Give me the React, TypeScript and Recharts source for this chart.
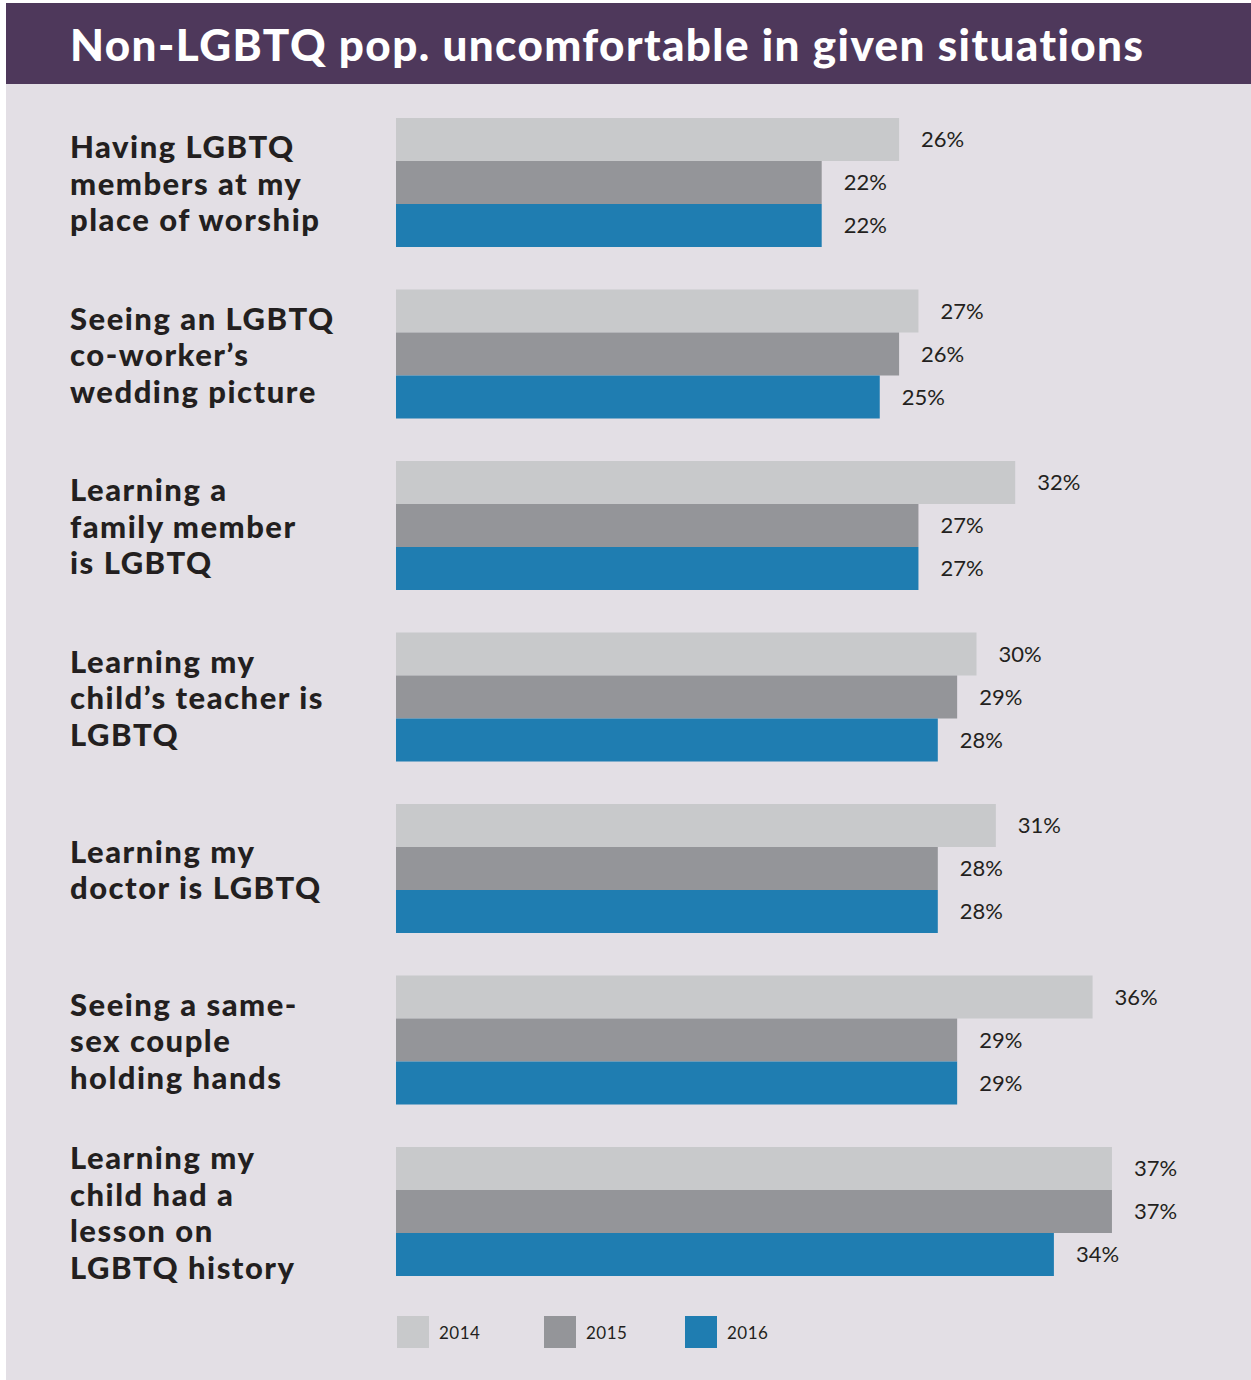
import React from 'react';
import { BarChart, Bar, XAxis, YAxis, LabelList } from 'recharts';

// Survey situations (line breaks follow the original layout)
const situations = [
  'Having LGBTQ\nmembers at my\nplace of worship',
  'Seeing an LGBTQ\nco-worker’s\nwedding picture',
  'Learning a\nfamily member\nis LGBTQ',
  'Learning my\nchild’s teacher is\nLGBTQ',
  'Learning my\ndoctor is LGBTQ',
  'Seeing a same-\nsex couple\nholding hands',
  'Learning my\nchild had a\nlesson on\nLGBTQ history',
];

const pct2014 = [26, 27, 32, 30, 31, 36, 37];
const pct2015 = [22, 26, 27, 29, 28, 29, 37];
const pct2016 = [22, 25, 27, 28, 28, 29, 34];

const years = ['2014', '2015', '2016'];
const colors = ['#c8c9cb', '#949599', '#1f7db1'];

const chartData = situations.map((s, i) => ({
  name: s,
  y2014: pct2014[i],
  y2015: pct2015[i],
  y2016: pct2016[i],
}));

const TEXT = '#231f20';
const FONT = 'Lato, "Open Sans", sans-serif';

const SituationTick = (props: any) => {
  const { y, payload } = props;
  const lines: string[] = String(payload.value).split('\n');
  const lh = 36.5;
  const first = -((lines.length - 1) * lh) / 2;
  return (
    <text
      x={70}
      y={y}
      textAnchor="start"
      fill={TEXT}
      fontFamily={FONT}
      fontWeight={900}
      fontSize={31}
      letterSpacing={1.5}
      dominantBaseline="central"
    >
      {lines.map((ln, k) => (
        <tspan key={k} x={70} dy={k === 0 ? first : lh}>
          {ln}
        </tspan>
      ))}
    </text>
  );
};

const YearLegend = () => (
  <div style={{ display: 'flex', alignItems: 'center', fontFamily: FONT }}>
    {years.map((yr, i) => (
      <div key={yr} style={{ display: 'flex', alignItems: 'center', width: i === 0 ? 147 : 141 }}>
        <span style={{ width: 32, height: 32, background: colors[i], display: 'inline-block' }} />
        <span style={{ marginLeft: 10, fontSize: 17, color: TEXT, letterSpacing: 0.5 }}>{yr}</span>
      </div>
    ))}
  </div>
);

const App = () => {
  return (
    <div style={{ position: 'absolute', left: 0, top: 0, width: 1251, height: 1380, background: '#fff' }}>
      <div
        style={{
          position: 'absolute',
          left: 6,
          top: 3,
          width: 1245,
          height: 81,
          background: '#4e385b',
        }}
      />
      <div
        style={{
          position: 'absolute',
          left: 6,
          top: 84,
          width: 1245,
          height: 1296,
          background: '#e3dfe5',
        }}
      />
      <div
        style={{
          position: 'absolute',
          left: 70,
          top: 3,
          height: 81,
          display: 'flex',
          alignItems: 'center',
          color: '#fff',
          fontFamily: FONT,
          fontWeight: 900,
          fontSize: 44,
          letterSpacing: 1.4,
          whiteSpace: 'nowrap',
        }}
      >
        Non-LGBTQ pop. uncomfortable in given situations
      </div>

      <div style={{ position: 'absolute', left: 0, top: 0 }}>
        <BarChart
          width={1251}
          height={1380}
          data={chartData}
          layout="vertical"
          margin={{ top: 97, right: 81, bottom: 82.5, left: 0 }}
          barCategoryGap={21}
          barGap={0}
        >
          <XAxis type="number" domain={[0, 40]} hide />
          <YAxis
            type="category"
            dataKey="name"
            width={396}
            axisLine={false}
            tickLine={false}
            tick={<SituationTick />}
            interval={0}
          />
          {['y2014', 'y2015', 'y2016'].map((k, i) => (
            <Bar key={k} dataKey={k} name={years[i]} fill={colors[i]} isAnimationActive={false}>
              <LabelList
                dataKey={k}
                position="right"
                offset={22}
                formatter={(v: any) => `${v}%`}
                fill={TEXT}
                fontSize={22}
                fontFamily={FONT}
              />
            </Bar>
          ))}
        </BarChart>
      </div>

      <div style={{ position: 'absolute', left: 397, top: 1316 }}>
        <YearLegend />
      </div>
    </div>
  );
};

export default App;
